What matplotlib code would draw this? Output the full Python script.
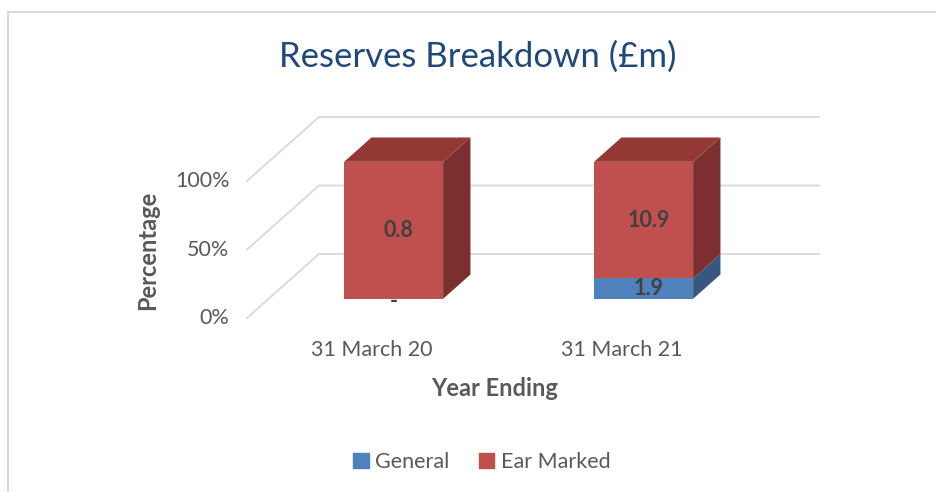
import matplotlib.pyplot as plt
import numpy as np
from matplotlib import patches

categories = ['31 March 20', '31 March 21']
general = [0.0, 1.9]
ear_marked = [0.8, 10.9]
series_names = ['General', 'Ear Marked']
y_ticks = [0, 50, 100]
y_tick_labels = ['0%', '50%', '100%']

front_cols = ['#4F81BD', '#C0504D']
side_cols = ['#36587F', '#7B2F2E']
top_cols = ['#3E6596', '#943836']

plt.rcParams['font.family'] = ['Lato', 'DejaVu Sans']

W, H = 936, 492
fig = plt.figure(figsize=(W / 100, H / 100), dpi=100)

# front plane of the 3d box in pixels: left, right, y of 0%, y of 100%
fl, fr, fb, ft = 247, 747, 318, 181
ax = fig.add_axes([fl / W, 1 - fb / H, (fr - fl) / W, (fb - ft) / H])
ax.set_xlim(-0.5, 1.5)
ax.set_ylim(0, 100)
ax.axis('off')

# depth shift for the full floor depth, in data units
dx = 72 / (fr - fl) * 2
dy = 64 / (fb - ft) * 100

# back walls grid
for t in y_ticks:
    ax.plot([-0.5, -0.5 + dx, 1.5 + dx], [t, t + dy, t + dy],
            color='#D9D9D9', lw=1.3, clip_on=False, zorder=1)

vals = np.array([general, ear_marked])
pct = vals / vals.sum(axis=0) * 100

bw = 0.396
w0, wd = 0.3, 0.38
for i in range(len(categories)):
    x0 = i - bw / 2 + w0 * dx
    x1 = i + bw / 2 + w0 * dx
    base = w0 * dy
    ox, oy = wd * dx, wd * dy
    bottom = 0.0
    for s in range(len(series_names)):
        h = pct[s, i]
        if h <= 0:
            continue
        y0 = base + bottom
        y1 = y0 + h
        ax.add_patch(patches.Polygon([(x0, y0), (x1, y0), (x1, y1), (x0, y1)],
                                     closed=True, fc=front_cols[s], ec='none',
                                     clip_on=False, zorder=3))
        ax.add_patch(patches.Polygon([(x1, y0), (x1 + ox, y0 + oy), (x1 + ox, y1 + oy), (x1, y1)],
                                     closed=True, fc=side_cols[s], ec='none',
                                     clip_on=False, zorder=3))
        bottom += h
    # top face
    yt = base + bottom
    ax.add_patch(patches.Polygon([(x0, yt), (x1, yt), (x1 + ox, yt + oy), (x0 + ox, yt + oy)],
                                 closed=True, fc=top_cols[-1], ec='none',
                                 clip_on=False, zorder=3))

    # data labels
    bottom = 0.0
    cx = (x0 + x1) / 2 + 0.02
    for s in range(len(series_names)):
        h = pct[s, i]
        v = vals[s, i]
        if v == 0:
            ax.text(cx - 0.02, base - 2, '-', ha='center', va='center',
                    fontsize=15.5, fontweight='bold', color='#404040', zorder=5, clip_on=False)
        else:
            ax.text(cx, base + bottom + h / 2, f'{v:.1f}', ha='center', va='center',
                    fontsize=15.5, fontweight='bold', color='#404040', zorder=5, clip_on=False)
        bottom += h

# axis tick labels
for t, lab in zip(y_ticks, y_tick_labels):
    ax.text(-0.5 - 0.07, t, lab, ha='right', va='center', fontsize=15.5, color='#595959')
for i, c in enumerate(categories):
    ax.text(i, -23, c, ha='center', va='center', fontsize=15.5, color='#595959')

fig.text(148 / W, 1 - 250 / H, 'Percentage', rotation=90, ha='center', va='center',
         fontsize=17, fontweight='bold', color='#595959')
fig.text(495 / W, 1 - 388 / H, 'Year Ending', ha='center', va='center',
         fontsize=17, fontweight='bold', color='#595959')
fig.text(478 / W, 1 - 57 / H, 'Reserves Breakdown (£m)', ha='center', va='center',
         fontsize=25, color='#1F497D')

handles = [patches.Patch(color=c) for c in front_cols]
fig.legend(handles, series_names, loc='center', bbox_to_anchor=(482 / W, 1 - 462 / H),
           ncol=2, frameon=False, fontsize=15.5, handlelength=0.7, handleheight=0.7,
           handletextpad=0.3, columnspacing=1.4, labelcolor='#595959')

# chart border
fig.patches.append(patches.Rectangle((8 / W, -0.1), 1.2, 1 - 12 / H + 0.1,
                                     transform=fig.transFigure, fill=False,
                                     ec='#D9D9D9', lw=1.5))

fig.savefig('out.png', dpi=100)
